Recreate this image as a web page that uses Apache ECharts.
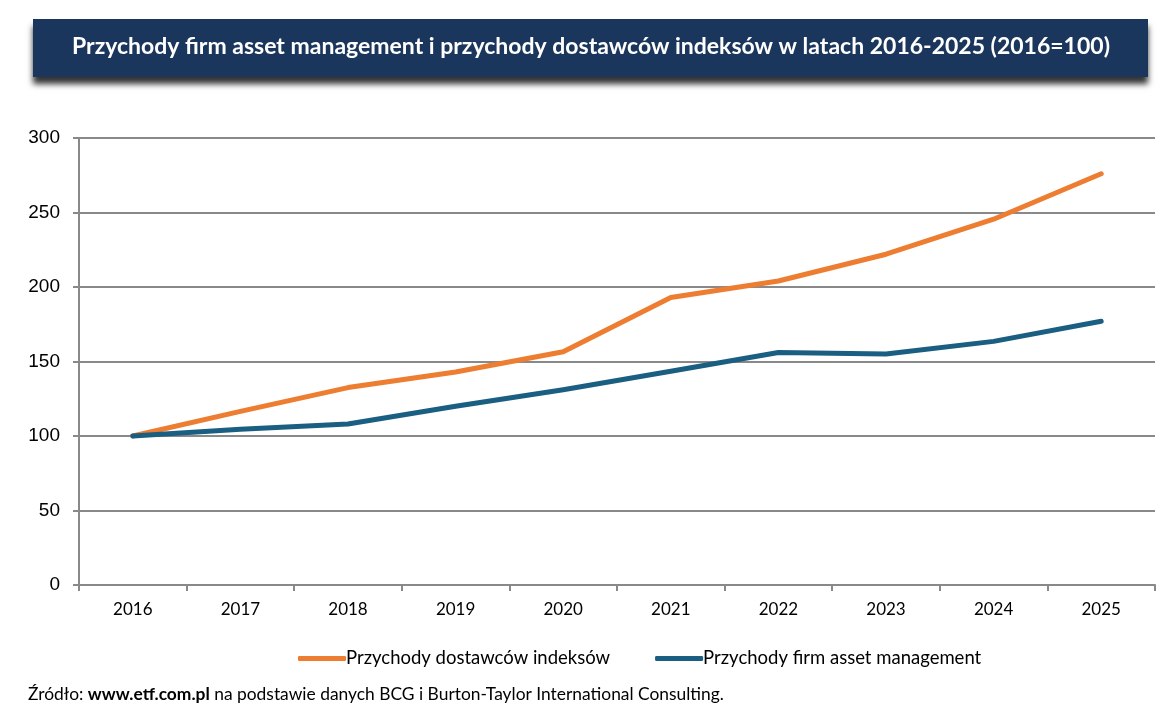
<!DOCTYPE html>
<html>
<head>
    <meta charset="utf-8">
    <title>ECharts</title>
    <style>
        html, body { margin: 0; padding: 0; background: #fff; }
    </style>
</head>
<body>
    <div id="main" style="width:1173px;height:720px"></div>
    <script src="https://cdn.jsdelivr.net/npm/echarts@6/dist/echarts.min.js"></script>
    <script type="text/javascript">
    // dane (2016 = 100)
    var years = ['2016', '2017', '2018', '2019', '2020', '2021', '2022', '2023', '2024', '2025'];
    var indexProviders = [100, 116.5, 132.5, 143, 156.5, 193, 204, 222, 245.5, 276];
    var assetManagers = [100, 104.5, 108, 120, 131, 143.5, 156, 155, 163.5, 177];
    var seriesNames = ['Przychody dostawców indeksów', 'Przychody firm asset management'];
    var yTicks = [0, 50, 100, 150, 200, 250, 300];

    var myChart = echarts.init(document.getElementById('main'));
    var gridColor = '#898989';

    var option = {
        animation: false,
        color: ['#ED7D31', '#1A5E82'],
        graphic: [
            {
                type: 'rect',
                shape: { x: 33, y: 19, width: 1115, height: 58 },
                style: {
                    fill: '#1B365D',
                    shadowBlur: 6,
                    shadowOffsetY: 7,
                    shadowOffsetX: 0,
                    shadowColor: 'rgba(0,0,0,0.8)'
                }
            },
            {
                type: 'text',
                x: 591,
                y: 47,
                style: {
                    text: 'Przychody firm asset management i przychody dostawców indeksów w latach 2016-2025 (2016=100)',
                    fill: '#ffffff',
                    font: 'bold 23px Lato, "Open Sans", sans-serif',
                    align: 'center',
                    verticalAlign: 'middle'
                }
            },
            {
                type: 'text',
                x: 28,
                y: 694,
                style: {
                    text: '{n|Źródło: }{b|www.etf.com.pl}{n| na podstawie danych BCG i Burton-Taylor International Consulting.}',
                    verticalAlign: 'middle',
                    rich: {
                        n: { fill: '#000', fontSize: 17.4, fontFamily: 'Lato, sans-serif' },
                        b: { fill: '#000', fontSize: 17.4, fontWeight: 'bold', fontFamily: 'Lato, sans-serif' }
                    }
                }
            }
        ],
        grid: {
            left: 79,
            right: 18,
            top: 138,
            bottom: 135
        },
        legend: {
            data: seriesNames,
            bottom: 47,
            left: 293,
            itemGap: 45,
            itemWidth: 48,
            itemHeight: 5,
            icon: 'roundRect',
            textStyle: {
                color: '#000',
                fontSize: 18.5,
                fontFamily: 'Lato, sans-serif',
                padding: [0, 0, 0, -5]
            }
        },
        xAxis: {
            type: 'category',
            data: years,
            boundaryGap: true,
            axisLine: { lineStyle: { color: gridColor, width: 2 } },
            axisTick: { show: true, length: 6, lineStyle: { color: gridColor, width: 2 } },
            axisLabel: {
                color: '#000',
                fontSize: 17,
                fontFamily: 'Lato, sans-serif',
                margin: 16
            }
        },
        yAxis: {
            type: 'value',
            min: yTicks[0],
            max: yTicks[yTicks.length - 1],
            interval: 50,
            axisLine: { show: true, lineStyle: { color: gridColor, width: 2 } },
            axisTick: { show: true, length: 6, lineStyle: { color: gridColor, width: 2 } },
            splitLine: { lineStyle: { color: gridColor, width: 2 } },
            axisLabel: {
                color: '#000',
                fontSize: 19,
                fontFamily: '"Liberation Sans", Arial, sans-serif',
                margin: 19
            }
        },
        series: [
            {
                name: seriesNames[0],
                type: 'line',
                data: indexProviders,
                symbol: 'none',
                lineStyle: { width: 5, cap: 'round', join: 'round' }
            },
            {
                name: seriesNames[1],
                type: 'line',
                data: assetManagers,
                symbol: 'none',
                lineStyle: { width: 5, cap: 'round', join: 'round' }
            }
        ]
    };
    myChart.setOption(option);
    </script>
</body>
</html>
